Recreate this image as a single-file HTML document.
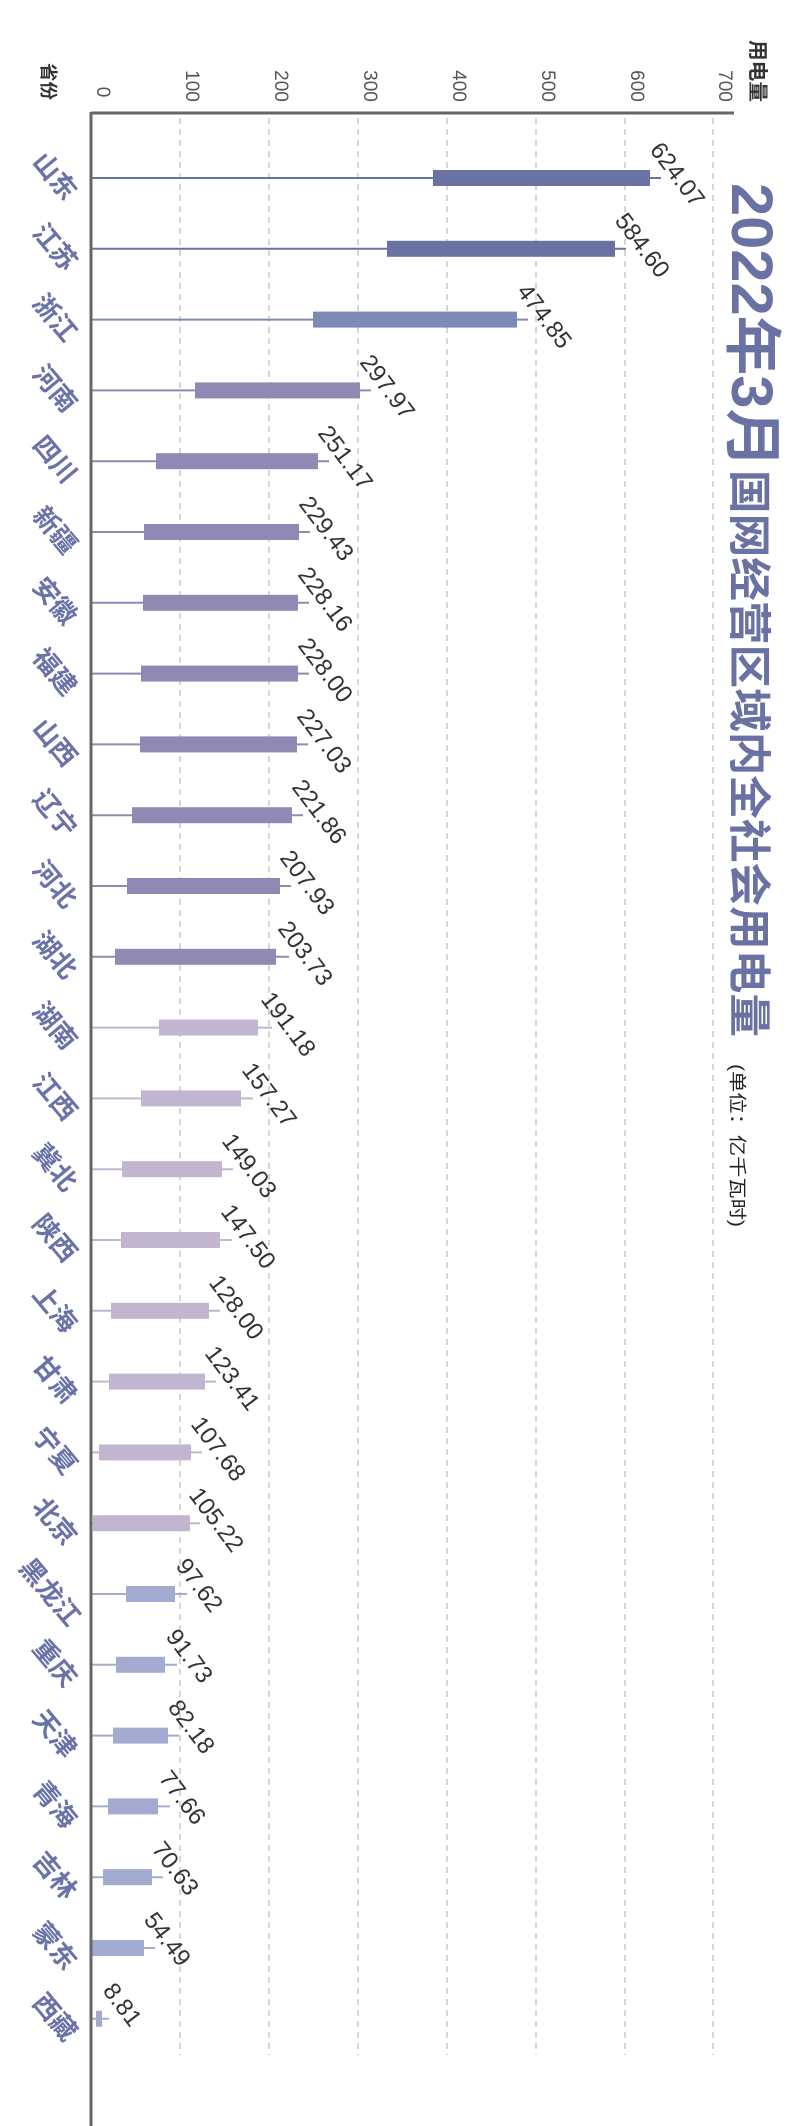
<!DOCTYPE html>
<html><head><meta charset="utf-8"><style>
html,body{margin:0;padding:0;background:#fff;}
svg{display:block;}
.v{font-family:"Liberation Sans","Noto Sans CJK SC",sans-serif;font-size:24px;fill:#333;}
.p{font-family:"Liberation Sans","Noto Sans CJK SC",sans-serif;font-size:26px;font-weight:bold;fill:#6a72a8;text-anchor:middle;}
.t{font-family:"Liberation Sans","Noto Sans CJK SC",sans-serif;font-size:19px;fill:#555;}
.c1 rect{fill:#6a71a3}.c1 line{stroke:#6a71a3}
.c2 rect{fill:#7c8bb6}.c2 line{stroke:#7c8bb6}
.c3 rect{fill:#9089b3}.c3 line{stroke:#9089b3}
.c4 rect{fill:#c2b5cf}.c4 line{stroke:#c2b5cf}
.c5 rect{fill:#a3acd0}.c5 line{stroke:#a3acd0}
line.r{stroke-width:2}
.v{transform-box:view-box}
</style></head><body>
<svg width="800" height="2126" viewBox="0 0 800 2126" xmlns="http://www.w3.org/2000/svg">
<g stroke="#bbb" stroke-width="1.2" stroke-dasharray="6,5">
<line x1="180" y1="118" x2="180" y2="2055"/><line x1="269" y1="118" x2="269" y2="2055"/><line x1="358" y1="118" x2="358" y2="2055"/><line x1="447" y1="118" x2="447" y2="2055"/><line x1="536" y1="118" x2="536" y2="2055"/><line x1="625" y1="118" x2="625" y2="2055"/><line x1="713" y1="118" x2="713" y2="2055"/>
</g>
<g class="t">
<text transform="translate(97,92) rotate(90)" text-anchor="middle">0</text>
<text transform="translate(186,86) rotate(90)" text-anchor="middle">100</text>
<text transform="translate(275,86) rotate(90)" text-anchor="middle">200</text>
<text transform="translate(364,86) rotate(90)" text-anchor="middle">300</text>
<text transform="translate(453,86) rotate(90)" text-anchor="middle">400</text>
<text transform="translate(542,86) rotate(90)" text-anchor="middle">500</text>
<text transform="translate(631,86) rotate(90)" text-anchor="middle">600</text>
<text transform="translate(719,86) rotate(90)" text-anchor="middle">700</text>
</g>
<text transform="translate(751,40) rotate(90)" style="font-family:'Liberation Sans','Noto Sans CJK SC',sans-serif;font-size:20px;font-weight:bold;fill:#333" textLength="62" lengthAdjust="spacingAndGlyphs">用电量</text>
<text transform="translate(42,63) rotate(90)" style="font-family:'Liberation Sans','Noto Sans CJK SC',sans-serif;font-size:18px;font-weight:bold;fill:#333" textLength="37" lengthAdjust="spacingAndGlyphs">省份</text>
<text transform="translate(732,183) rotate(90)" style="font-family:'Liberation Sans','Noto Sans CJK SC',sans-serif;font-size:58px;font-weight:bold;fill:#6a71a3" textLength="285" lengthAdjust="spacingAndGlyphs">2022年3月</text>
<text transform="translate(734,470) rotate(90)" style="font-family:'Liberation Sans','Noto Sans CJK SC',sans-serif;font-size:43px;font-weight:bold;fill:#6a71a3" textLength="567" lengthAdjust="spacingAndGlyphs">国网经营区域内全社会用电量</text>
<text transform="translate(731,1064) rotate(90)" style="font-family:'Liberation Sans','Noto Sans CJK SC',sans-serif;font-size:18px;fill:#222" textLength="163" lengthAdjust="spacingAndGlyphs">(单位：亿千瓦时)</text>

<g class="c1" transform="translate(0,178)"><line class="r" x1="91" x2="661" y1="0" y2="0"/><rect x="433" y="-8" width="217" height="16"/><text class="v" transform="translate(649,-28) rotate(53)">624.07</text><text class="p" transform="translate(48,4) rotate(50)">山东</text></g>
<g class="c1" transform="translate(0,248.8)"><line class="r" x1="91" x2="626" y1="0" y2="0"/><rect x="387" y="-8" width="228" height="16"/><text class="v" transform="translate(614,-28) rotate(53)">584.60</text><text class="p" transform="translate(48,4) rotate(50)">江苏</text></g>
<g class="c2" transform="translate(0,319.6)"><line class="r" x1="91" x2="528" y1="0" y2="0"/><rect x="313" y="-8" width="204" height="16"/><text class="v" transform="translate(516,-28) rotate(53)">474.85</text><text class="p" transform="translate(48,4) rotate(50)">浙江</text></g>
<g class="c3" transform="translate(0,390.4)"><line class="r" x1="91" x2="371" y1="0" y2="0"/><rect x="195" y="-8" width="165" height="16"/><text class="v" transform="translate(359,-28) rotate(53)">297.97</text><text class="p" transform="translate(48,4) rotate(50)">河南</text></g>
<g class="c3" transform="translate(0,461.2)"><line class="r" x1="91" x2="329" y1="0" y2="0"/><rect x="156" y="-8" width="162" height="16"/><text class="v" transform="translate(317,-28) rotate(53)">251.17</text><text class="p" transform="translate(48,4) rotate(50)">四川</text></g>
<g class="c3" transform="translate(0,532)"><line class="r" x1="91" x2="310" y1="0" y2="0"/><rect x="144" y="-8" width="155" height="16"/><text class="v" transform="translate(298,-28) rotate(53)">229.43</text><text class="p" transform="translate(48,4) rotate(50)">新疆</text></g>
<g class="c3" transform="translate(0,602.8)"><line class="r" x1="91" x2="309" y1="0" y2="0"/><rect x="143" y="-8" width="155" height="16"/><text class="v" transform="translate(297,-28) rotate(53)">228.16</text><text class="p" transform="translate(48,4) rotate(50)">安徽</text></g>
<g class="c3" transform="translate(0,673.6)"><line class="r" x1="91" x2="309" y1="0" y2="0"/><rect x="141" y="-8" width="157" height="16"/><text class="v" transform="translate(297,-28) rotate(53)">228.00</text><text class="p" transform="translate(48,4) rotate(50)">福建</text></g>
<g class="c3" transform="translate(0,744.4)"><line class="r" x1="91" x2="308" y1="0" y2="0"/><rect x="140" y="-8" width="157" height="16"/><text class="v" transform="translate(296,-28) rotate(53)">227.03</text><text class="p" transform="translate(48,4) rotate(50)">山西</text></g>
<g class="c3" transform="translate(0,815.2)"><line class="r" x1="91" x2="303" y1="0" y2="0"/><rect x="132" y="-8" width="160" height="16"/><text class="v" transform="translate(291,-28) rotate(53)">221.86</text><text class="p" transform="translate(48,4) rotate(50)">辽宁</text></g>
<g class="c3" transform="translate(0,886)"><line class="r" x1="91" x2="291" y1="0" y2="0"/><rect x="127" y="-8" width="153" height="16"/><text class="v" transform="translate(279,-28) rotate(53)">207.93</text><text class="p" transform="translate(48,4) rotate(50)">河北</text></g>
<g class="c3" transform="translate(0,956.8)"><line class="r" x1="91" x2="289" y1="0" y2="0"/><rect x="115" y="-8" width="161" height="16"/><text class="v" transform="translate(277,-28) rotate(53)">203.73</text><text class="p" transform="translate(48,4) rotate(50)">湖北</text></g>
<g class="c4" transform="translate(0,1027.6)"><line class="r" x1="91" x2="272" y1="0" y2="0"/><rect x="159" y="-8" width="99" height="16"/><text class="v" transform="translate(260,-28) rotate(53)">191.18</text><text class="p" transform="translate(48,4) rotate(50)">湖南</text></g>
<g class="c4" transform="translate(0,1098.4)"><line class="r" x1="91" x2="253" y1="0" y2="0"/><rect x="141" y="-8" width="100" height="16"/><text class="v" transform="translate(241,-28) rotate(53)">157.27</text><text class="p" transform="translate(48,4) rotate(50)">江西</text></g>
<g class="c4" transform="translate(0,1169.2)"><line class="r" x1="91" x2="233" y1="0" y2="0"/><rect x="122" y="-8" width="100" height="16"/><text class="v" transform="translate(221,-28) rotate(53)">149.03</text><text class="p" transform="translate(48,4) rotate(50)">冀北</text></g>
<g class="c4" transform="translate(0,1240)"><line class="r" x1="91" x2="232" y1="0" y2="0"/><rect x="121" y="-8" width="99" height="16"/><text class="v" transform="translate(220,-28) rotate(53)">147.50</text><text class="p" transform="translate(48,4) rotate(50)">陕西</text></g>
<g class="c4" transform="translate(0,1310.8)"><line class="r" x1="91" x2="220" y1="0" y2="0"/><rect x="111" y="-8" width="98" height="16"/><text class="v" transform="translate(208,-28) rotate(53)">128.00</text><text class="p" transform="translate(48,4) rotate(50)">上海</text></g>
<g class="c4" transform="translate(0,1381.6)"><line class="r" x1="91" x2="216" y1="0" y2="0"/><rect x="109" y="-8" width="96" height="16"/><text class="v" transform="translate(204,-28) rotate(53)">123.41</text><text class="p" transform="translate(48,4) rotate(50)">甘肃</text></g>
<g class="c4" transform="translate(0,1452.4)"><line class="r" x1="91" x2="202" y1="0" y2="0"/><rect x="99" y="-8" width="92" height="16"/><text class="v" transform="translate(190,-28) rotate(53)">107.68</text><text class="p" transform="translate(48,4) rotate(50)">宁夏</text></g>
<g class="c4" transform="translate(0,1523.2)"><line class="r" x1="91" x2="200" y1="0" y2="0"/><rect x="93" y="-8" width="97" height="16"/><text class="v" transform="translate(188,-28) rotate(53)">105.22</text><text class="p" transform="translate(48,4) rotate(50)">北京</text></g>
<g class="c5" transform="translate(0,1594)"><line class="r" x1="91" x2="187" y1="0" y2="0"/><rect x="126" y="-8" width="49" height="16"/><text class="v" transform="translate(175,-28) rotate(53)">97.62</text><text class="p" transform="translate(43,4) rotate(50)">黑龙江</text></g>
<g class="c5" transform="translate(0,1664.8)"><line class="r" x1="91" x2="177" y1="0" y2="0"/><rect x="116" y="-8" width="49" height="16"/><text class="v" transform="translate(165,-28) rotate(53)">91.73</text><text class="p" transform="translate(48,4) rotate(50)">重庆</text></g>
<g class="c5" transform="translate(0,1735.6)"><line class="r" x1="91" x2="179" y1="0" y2="0"/><rect x="113" y="-8" width="55" height="16"/><text class="v" transform="translate(167,-28) rotate(53)">82.18</text><text class="p" transform="translate(48,4) rotate(50)">天津</text></g>
<g class="c5" transform="translate(0,1806.4)"><line class="r" x1="91" x2="170" y1="0" y2="0"/><rect x="108" y="-8" width="50" height="16"/><text class="v" transform="translate(158,-28) rotate(53)">77.66</text><text class="p" transform="translate(48,4) rotate(50)">青海</text></g>
<g class="c5" transform="translate(0,1877.2)"><line class="r" x1="91" x2="163" y1="0" y2="0"/><rect x="103" y="-8" width="49" height="16"/><text class="v" transform="translate(151,-28) rotate(53)">70.63</text><text class="p" transform="translate(48,4) rotate(50)">吉林</text></g>
<g class="c5" transform="translate(0,1948)"><line class="r" x1="91" x2="155" y1="0" y2="0"/><rect x="92" y="-8" width="52" height="16"/><text class="v" transform="translate(143,-28) rotate(53)">54.49</text><text class="p" transform="translate(48,4) rotate(50)">蒙东</text></g>
<g class="c5" transform="translate(0,2018.8)"><line class="r" x1="91" x2="109" y1="0" y2="0"/><rect x="96" y="-8" width="6" height="16"/><text class="v" transform="translate(102,-28) rotate(53)">8.81</text><text class="p" transform="translate(48,4) rotate(50)">西藏</text></g>

<line x1="91" y1="113" x2="734" y2="113" stroke="#666" stroke-width="3"/>
<line x1="91" y1="112" x2="91" y2="2126" stroke="#666" stroke-width="3"/>
</svg>
</body></html>
